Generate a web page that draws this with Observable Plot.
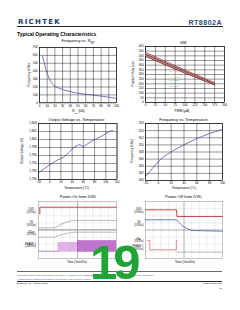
<!DOCTYPE html>
<html><head><meta charset="utf-8">
<script src="https://cdn.jsdelivr.net/npm/d3@7"></script>
<script src="https://cdn.jsdelivr.net/npm/@observablehq/plot@0.6"></script>
<style>
html,body{margin:0;padding:0;background:#fff;}
#root{position:relative;width:240px;height:310px;overflow:hidden;font-family:"Liberation Sans",Arial,sans-serif;}
.t{position:absolute;white-space:nowrap;line-height:1;}
.hl{position:absolute;}
</style></head><body><div id="root"></div>
<script>
// ---------- data ----------
// Frequency vs R_RT
const rtTicksX = [0,10,20,30,40,50,60,70,80,90,100];
const rtTicksY = [0,100,200,300,400,500,600,700];
const rtX = [3.9, 6, 8.1, 11.1, 14.6, 18.9, 25.4, 36.2, 49.2, 66.4, 83.6, 98.7];
const rtFreq = [590, 514, 430, 346, 270, 219, 185, 152, 122, 101, 80, 58];

// GM
const gmTicksX = [0,25,50,75,100,125,150,175,200];
const gmTicksY = [0,50,100,150,200,250,300,350,400,450,500,550,600];
const gmX = [0, 100, 175];
const gmP1 = [535, 347, 212];
const gmP2 = [526, 340, 206];
const gmP3 = [516, 333, 200];
const gmP4 = [508, 327, 196];
const gmP5 = [501, 321, 192];
const gmP6 = [494, 315, 188];
const gmNames = ["PHASE 1","PHASE 2","PHASE 3","PHASE 4","PHASE 5","PHASE 6"];
const gmLineColors = ["#8b2020","#e08a8a","#222222","#c04848","#e8a0a0","#5a1010"];
const gmLegendColors = ["#f08a80","#f0a040","#e8b040","#30a890","#40a8c8","#b070d0"];

// Output voltage vs temperature
const ovTicksX = [-20,0,20,40,60,80,100,120];
const ovTicksY = [1.790,1.792,1.794,1.796,1.798,1.800,1.802,1.804];
const ovT = [-20, -9.6, 2.3, 14.2, 24.9, 34.9, 45, 52.7, 60.5, 73.7, 91.4, 106.2, 112];
const ovV = [1.7917, 1.7927, 1.7939, 1.7949, 1.7956, 1.7968, 1.79825, 1.7987, 1.79825, 1.7995, 1.80075, 1.802, 1.80225];

// Frequency vs temperature
const ftTicksX = [-20,0,20,40,60,80,100];
const ftTicksY = [300,302,304,306,308,310,312,314,316];
const ftT = [-20, -9.6, 0.7, 11.2, 21.6, 39.7, 59.4, 78.6, 99.4];
const ftF = [301.1, 303.3, 305.4, 307.0, 308.2, 310.0, 311.7, 313.1, 314.3];

// Scope grids (divisions)
const scopeDivX = [0,1,2,3,4,5,6,7,8,9,10];
const scopeDivY = [0,1,2,3,4,5,6,7,8];

// Power On from DVD
const onDvdT = [0.17, 0.17, 10];
const onDvdV = [6.27, 7.2, 7.2];
const onRefT = [0, 10];
const onRefV = [4.03, 4.03];
const onVaT = [0, 2.0, 2.6, 3.3, 4.0, 4.6, 10];
const onVaV = [4.3, 4.3, 4.6, 5.0, 5.25, 5.35, 5.35];
const onVbT = [0, 2.0, 2.6, 3.3, 4.0, 4.6, 10];
const onVbV = [2.99, 2.99, 3.2, 3.45, 3.62, 3.69, 3.69];
const onPhT = [0, 2.5];
const onPhV = [1.02, 1.02];
const onSwitch = [{t1: 2.5, t2: 5.0, v1: 0.9, v2: 2.25, c: "#d9a6e2"}, {t1: 5.0, t2: 10, v1: 0.88, v2: 2.5, c: "#b45cc4"}];

// Power Off from DVD
const offDvdT = [0, 4.03, 4.1, 10];
const offDvdV = [6.83, 6.83, 5.9, 5.9];
const offV0T = [0, 4.03, 4.32, 4.76, 5.4, 6.06, 10];
const offV0V = [5.43, 5.43, 5.1, 4.63, 4.17, 3.93, 3.83];
const offPwrT = [0.3, 0.56, 0.56, 4.0, 4.0, 4.1];
const offPwrV = [2.53, 2.53, 1.22, 1.22, 2.53, 2.53];
const offPhT = [4.1, 10];
const offPhV = [0.88, 0.88];

// ---------- helpers ----------
const root = document.getElementById("root");
function txt(html, x, y, o = {}) {
  const d = document.createElement("div");
  d.className = "t";
  d.innerHTML = html;
  d.style.left = x + "px"; d.style.top = y + "px";
  d.style.fontSize = (o.size || 3) + "px";
  if (o.weight) d.style.fontWeight = o.weight;
  if (o.family) d.style.fontFamily = o.family;
  d.style.color = o.color || "#000";
  const a = o.anchor || "middle";
  let tr = a === "middle" ? "translate(-50%,-50%)" : a === "end" ? "translate(-100%,-50%)" : "translate(0,-50%)";
  if (o.rotate) tr += " rotate(-90deg)";
  d.style.transform = tr;
  if (o.ls !== undefined) d.style.letterSpacing = o.ls + "px";
  if (o.align) d.style.textAlign = o.align;
  if (o.lh) d.style.lineHeight = o.lh;
  if (o.style) Object.assign(d.style, o.style);
  root.appendChild(d);
  return d;
}
function hline(x0, x1, y, w, c) {
  const d = document.createElement("div");
  d.className = "hl";
  Object.assign(d.style, {left: x0 + "px", top: (y - w / 2) + "px", width: (x1 - x0) + "px", height: w + "px", background: c});
  root.appendChild(d);
}
function place(svg, left, top) {
  svg.style.position = "absolute";
  svg.style.left = left + "px";
  svg.style.top = top + "px";
  root.appendChild(svg);
}
const fontStyle = {fontSize: "3px", fontFamily: "'Liberation Sans', Arial, sans-serif", background: "transparent", color: "#000", overflow: "visible"};

function xyChart(f, xs, ys, marks) {
  const ml = 14, mr = 4, mt = 3, mb = 7;
  const svg = Plot.plot({
    width: f[1] - f[0] + ml + mr, height: f[3] - f[2] + mt + mb,
    marginLeft: ml, marginRight: mr, marginTop: mt, marginBottom: mb,
    x: {domain: [xs[0], xs[xs.length - 1]]},
    y: {domain: [ys[0], ys[ys.length - 1]]},
    style: fontStyle,
    marks: [
      Plot.gridX({ticks: xs, stroke: "#000", strokeOpacity: 0.9, strokeWidth: 0.45}),
      Plot.gridY({ticks: ys, stroke: "#000", strokeOpacity: 0.9, strokeWidth: 0.45}),
      Plot.frame({stroke: "#000", strokeWidth: 0.6}),
      Plot.axisX({ticks: xs, tickSize: 0, tickPadding: 1.6, label: null}),
      Plot.axisY({ticks: ys, tickSize: 0, tickPadding: 1.8, label: null}),
      ...marks
    ]
  });
  place(svg, f[0] - ml, f[2] - mt);
}
function scope(f, marks) {
  const svg = Plot.plot({
    width: f[1] - f[0], height: f[3] - f[2], margin: 0,
    x: {domain: [0, 10], axis: null}, y: {domain: [0, 8], axis: null},
    style: {...fontStyle, background: "#fff"},
    marks: [
      Plot.gridX({ticks: scopeDivX, stroke: "#9a9a9a", strokeOpacity: 1, strokeWidth: 0.4, strokeDasharray: "0.6,0.9"}),
      Plot.gridY({ticks: scopeDivY, stroke: "#9a9a9a", strokeOpacity: 1, strokeWidth: 0.4, strokeDasharray: "0.6,0.9"}),
      Plot.ruleX([5], {stroke: "#777", strokeWidth: 0.5}),
      Plot.ruleY([4], {stroke: "#777", strokeWidth: 0.5}),
      Plot.frame({stroke: "#999", strokeWidth: 0.5}),
      ...marks
    ]
  });
  place(svg, f[0], f[2]);
}
const pts = (xs, ys) => xs.map((x, i) => ({x, y: ys[i]}));

// ---------- header ----------
txt("RICHTEK", 18, 21.5, {size: 7, weight: 700, family: "'DejaVu Sans', sans-serif", color: "#1b3d6e", anchor: "start", ls: 1.3});
txt("RT8802A", 222, 21.5, {size: 7, weight: 700, color: "#2b4d77", anchor: "end", ls: 0.5});
hline(17, 223, 26.2, 1.2, "#222");
txt("Typical Operating Characteristics", 17, 33.6, {size: 5, weight: 700, anchor: "start"});

// ---------- chart 1 ----------
const f1 = [39, 116, 47, 102.3];
xyChart(f1, rtTicksX, rtTicksY, [
  Plot.line(pts(rtX, rtFreq), {x: "x", y: "y", stroke: "#3a3a9a", strokeWidth: 0.7, curve: "monotone-x"})
]);
txt("Frequency vs. R<sub style='font-size:0.7em'>RT</sub>", 78, 42, {size: 4});
txt("Frequency (kHz)", 29.5, 74.5, {size: 3.2, rotate: true});
txt("R<sub style='font-size:0.7em'>RT</sub> (k&Omega;)", 78.5, 112, {size: 3.2});

// ---------- chart 2 ----------
const f2 = [145, 224, 46, 102];
const gmSeries = [gmP1, gmP2, gmP3, gmP4, gmP5, gmP6];
xyChart(f2, gmTicksX, gmTicksY, gmSeries.map((s, i) =>
  Plot.line(pts(gmX, s), {x: "x", y: "y", stroke: gmLineColors[i], strokeWidth: 0.8})
));
txt("GM", 183, 42.5, {size: 4});
txt("Positive Duty (us)", 134, 73.5, {size: 3.2, rotate: true});
txt("PWM (&micro;A)", 182, 111.5, {size: 3.2});
gmNames.forEach((n, i) => txt(n, 169.5, 72.3 + i * 3, {size: 2.4, anchor: "start", color: gmLegendColors[i]}));

// ---------- chart 3 ----------
const f3 = [37.5, 116, 123, 179];
xyChart(f3, ovTicksX, ovTicksY, [
  Plot.line(pts(ovT, ovV), {x: "x", y: "y", stroke: "#3a3a9a", strokeWidth: 0.7})
]);
txt("Output Voltage vs. Temperature", 76.5, 119.5, {size: 4});
txt("Output Voltage (V)", 22.5, 151, {size: 3.2, rotate: true});
txt("Temperature (&deg;C)", 76.5, 188.5, {size: 3.2});

// ---------- chart 4 ----------
const f4 = [145, 222, 123, 180];
xyChart(f4, ftTicksX, ftTicksY, [
  Plot.line(pts(ftT, ftF), {x: "x", y: "y", stroke: "#3a3a9a", strokeWidth: 0.7, curve: "monotone-x"})
]);
txt("Frequency vs. Temperature", 183.5, 119.5, {size: 4});
txt("Frequency (kHz)", 132.5, 151, {size: 3.2, rotate: true});
txt("Temperature (&deg;C)", 184, 188.5, {size: 3.2});

// ---------- chart 5 ----------
const f5 = [38, 116, 201, 258];
scope(f5, [
  Plot.line(pts(onRefT, onRefV), {x: "x", y: "y", stroke: "#8a8a8a", strokeWidth: 0.5}),
  Plot.line(pts(onVaT, onVaV), {x: "x", y: "y", stroke: "#9a9a9a", strokeWidth: 0.7}),
  Plot.line(pts(onVbT, onVbV), {x: "x", y: "y", stroke: "#a0a0a0", strokeWidth: 0.7}),
  Plot.rect(onSwitch, {x1: "t1", x2: "t2", y1: "v1", y2: "v2", fill: "c", fillOpacity: 0.85}),
  Plot.line(pts(onPhT, onPhV), {x: "x", y: "y", stroke: "#b45cc4", strokeWidth: 0.7}),
  Plot.line(pts(onDvdT, onDvdV), {x: "x", y: "y", stroke: "#c03030", strokeWidth: 0.9})
]);
txt("Power On from DVD", 78, 197, {size: 4});
txt("DVD<br>(1V/Div)", 36, 212, {size: 2.6, anchor: "end", align: "center", lh: 1.1});
txt("V0<br>(1V/Div)", 36, 225, {size: 2.6, anchor: "end", align: "center", lh: 1.1});
txt("VOut<br>(1V/Div)", 36, 234.5, {size: 2.6, anchor: "end", align: "center", lh: 1.1});
txt("PHASE 1<br>(20V/Div)", 36, 246.5, {size: 2.6, anchor: "end", align: "center", lh: 1.1});
txt("Time (1ms/Div)", 77, 261.5, {size: 3});

// ---------- chart 6 ----------
const f6 = [145, 222, 201, 258];
scope(f6, [
  Plot.line(pts(offPhT, offPhV), {x: "x", y: "y", stroke: "#9a9a9a", strokeWidth: 0.6}),
  Plot.line(pts(offPwrT, offPwrV), {x: "x", y: "y", stroke: "#d04050", strokeWidth: 0.6}),
  Plot.line(pts(offV0T, offV0V), {x: "x", y: "y", stroke: "#4a5aa8", strokeWidth: 0.8}),
  Plot.line(pts(offDvdT, offDvdV), {x: "x", y: "y", stroke: "#c03030", strokeWidth: 0.9})
]);
txt("Power Off from DVD", 183.5, 197, {size: 4});
txt("DVD<br>(1V/Div)", 143.5, 212, {size: 2.6, anchor: "end", align: "center", lh: 1.1});
txt("V0<br>(1V/Div)", 143.5, 225, {size: 2.6, anchor: "end", align: "center", lh: 1.1});
txt("Pwr<br>(5V/Div)", 143.5, 241.5, {size: 2.6, anchor: "end", align: "center", lh: 1.1});
txt("PHASE 1<br>(20V/Div)", 143.5, 248.8, {size: 2.6, anchor: "end", align: "center", lh: 1.1});
txt("Time (1ms/Div)", 185, 261.5, {size: 3});

// ---------- footer ----------
hline(17, 222, 271.7, 0.6, "#666");
txt("Copyright &copy;2012 Richtek Technology Corporation. All rights reserved. <b style='color:#1b3d6e'>RICHTEK</b> is a registered trademark of Richtek Technology Corporation.", 17, 275, {size: 2.2, anchor: "start", color: "#2a4a9a"});
txt("All trademarks or registered trademarks are the property of their respective owners.", 17, 279.2, {size: 2.0, anchor: "start", color: "#2a4a9a"});
hline(17, 222, 281.7, 0.7, "#222");
txt("DS8802A-00&nbsp;&nbsp;&nbsp;March&nbsp;&nbsp;2012", 17, 284.2, {size: 2.5, anchor: "start"});
txt("www.richtek.com", 222, 284.2, {size: 2.5, anchor: "end"});
txt("19", 222, 289, {size: 2.5, anchor: "end"});

// big page number overlay
const big = txt("19", 90, 238, {size: 49, weight: 700, anchor: "start", color: "#21a336", ls: -4});
big.style.transform = "none";
</script></body></html>
